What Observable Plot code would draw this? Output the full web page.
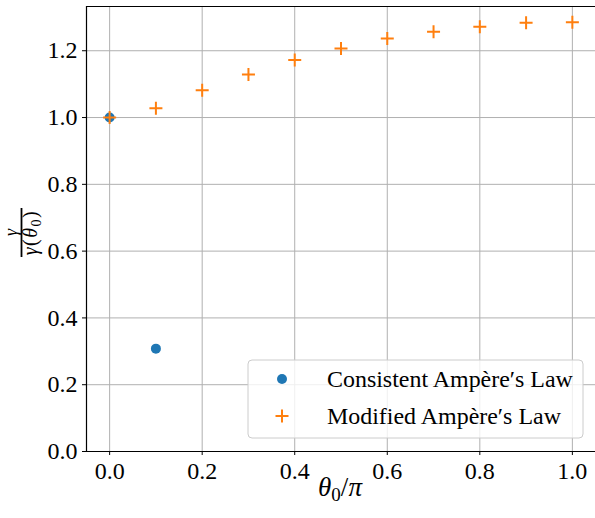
<!DOCTYPE html>
<html>
<head>
<meta charset="utf-8">
<script src="https://cdn.jsdelivr.net/npm/d3@7"></script>
<script src="https://cdn.jsdelivr.net/npm/@observablehq/plot@0.6"></script>
<style>
  html, body { margin: 0; padding: 0; background: #fff; }
  #chart svg { display: block; }
</style>
</head>
<body>
<div id="chart"></div>
<script>
const thetaConsistent = [0.0, 0.1];
const gammaConsistent = [1.0, 0.308];

const thetaModified = [0.0, 0.1, 0.2, 0.3, 0.4, 0.5, 0.6, 0.7, 0.8, 0.9, 1.0];
const gammaModified = [1.0, 1.028, 1.082, 1.129, 1.172, 1.207, 1.237, 1.257, 1.272, 1.284, 1.285];

const xTicks = [0.0, 0.2, 0.4, 0.6, 0.8, 1.0];
const yTicks = [0.0, 0.2, 0.4, 0.6, 0.8, 1.0, 1.2];

const seriesNames = ["Consistent Ampère\u2032s Law", "Modified Ampère\u2032s Law"];
const seriesColors = ["#1f77b4", "#ff7f0e"];

const consistent = thetaConsistent.map((x, i) => ({x, y: gammaConsistent[i]}));
const modified = thetaModified.map((x, i) => ({x, y: gammaModified[i]}));

const FONT = "Liberation Serif";

const plusSymbol = {
  draw(context, size) {
    const h = Math.sqrt(size / Math.PI);
    context.moveTo(-h, 0); context.lineTo(h, 0);
    context.moveTo(0, -h); context.lineTo(0, h);
  }
};

function yLabelMark(index, scales, values, dim) {
  const g = d3.create("svg:g").attr("fill", "black");
  const cy = 232.5;
  g.append("line").attr("x1", 21.5).attr("x2", 21.5).attr("y1", cy - 24.5).attr("y2", cy + 24.5)
    .attr("stroke", "black").attr("stroke-width", 1.8);
  g.append("text").attr("transform", `translate(17,${cy}) rotate(-90)`)
    .attr("text-anchor", "middle").attr("font-style", "italic")
    .attr("font-size", 18).text("γ");
  g.append("text").attr("transform", `translate(37,${cy}) rotate(-90)`)
    .attr("text-anchor", "middle")
    .attr("font-size", 20).attr("letter-spacing", 1.5)
    .call(t => {
      t.append("tspan").attr("font-style", "italic").text("γ");
      t.append("tspan").text("(");
      t.append("tspan").attr("font-style", "italic").text("θ");
      t.append("tspan").attr("font-size", 14).attr("dy", 4).text("0");
      t.append("tspan").attr("dy", -4).text(")");
    });
  return g.node();
}

function xLabelMark(index, scales, values, dim) {
  const g = d3.create("svg:g").attr("fill", "black");
  g.append("text").attr("x", 340).attr("y", 496).attr("text-anchor", "middle")
    .attr("font-size", 27)
    .call(t => {
      t.append("tspan").attr("font-style", "italic").text("θ");
      t.append("tspan").attr("font-size", 19).attr("dy", 5).text("0");
      t.append("tspan").attr("dy", -5).text("/");
      t.append("tspan").attr("font-style", "italic").text("π");
    });
  return g.node();
}

function legendMark(index, scales, values, dim) {
  const g = d3.create("svg:g").attr("class", "legend");
  const x0 = 248, y0 = 360, w = 335, h = 78;
  g.append("rect").attr("x", x0).attr("y", y0).attr("width", w).attr("height", h)
    .attr("rx", 4).attr("fill", "white").attr("fill-opacity", 0.8)
    .attr("stroke", "#cccccc").attr("stroke-width", 1);
  const rows = [y0 + 19, y0 + 56];
  g.append("circle").attr("cx", 282).attr("cy", rows[0]).attr("r", 5).attr("fill", seriesColors[0]);
  g.append("path").attr("d", `M${275.5},${rows[1]}H${288.5}M282,${rows[1] - 6.5}V${rows[1] + 6.5}`)
    .attr("stroke", seriesColors[1]).attr("stroke-width", 2).attr("fill", "none");
  seriesNames.forEach((s, i) => {
    g.append("text").attr("class", "legend-label").attr("x", 327).attr("y", rows[i]).attr("dy", "0.35em")
      .attr("text-anchor", "start")
      .attr("font-size", 24).attr("fill", "black").text(s);
  });
  return g.node();
}

const chart = Plot.plot({
  width: 595,
  height: 518,
  marginLeft: 86,
  marginRight: 0,
  marginTop: 6,
  marginBottom: 67,
  style: {fontSize: "24px", color: "black", background: "white"},
  x: {domain: [-0.05, 1.05], ticks: xTicks, tickFormat: d3.format(".1f"), label: null},
  y: {domain: [0, 1.3325], ticks: yTicks, tickFormat: d3.format(".1f"), label: null},
  marks: [
    Plot.gridX(xTicks, {stroke: "#b0b0b0", strokeOpacity: 1, strokeWidth: 1}),
    Plot.gridY(yTicks, {stroke: "#b0b0b0", strokeOpacity: 1, strokeWidth: 1}),
    Plot.axisX(xTicks, {tickSize: 4, tickPadding: 6, tickFormat: d3.format(".1f"), fontSize: 24, stroke: "black", fill: "black", label: null}),
    Plot.axisY(yTicks, {tickSize: 4, tickPadding: 5, tickFormat: d3.format(".1f"), fontSize: 24, stroke: "black", fill: "black", label: null}),
    Plot.ruleX([-0.05], {stroke: "black", strokeWidth: 1.2}),
    Plot.ruleY([0], {stroke: "black", strokeWidth: 1.2}),
    Plot.ruleY([1.3325], {stroke: "black", strokeWidth: 1.2}),
    Plot.dot(consistent, {x: "x", y: "y", r: 5, fill: seriesColors[0], stroke: null}),
    Plot.dot(modified, {x: "x", y: "y", r: 6.5, symbol: plusSymbol, stroke: seriesColors[1], strokeWidth: 2, fill: "none"}),
    xLabelMark,
    yLabelMark,
    legendMark
  ]
});
document.getElementById("chart").append(chart);

chart.setAttribute("font-family", FONT);
chart.style.fontFamily = `"${FONT}", serif`;
chart.querySelectorAll("g, text, tspan").forEach(el => {
  if (el.hasAttribute("font-family")) el.setAttribute("font-family", FONT);
});
chart.querySelectorAll("text").forEach(el => { el.style.fontFamily = `"${FONT}", serif`; });

const labels = chart.querySelectorAll(".legend-label");
if (labels.length) {
  const w0 = labels[0].getComputedTextLength();
  if (w0 > 0) {
    const fs = 24 * 246 / w0;
    labels.forEach(l => l.setAttribute("font-size", fs.toFixed(2)));
  }
}
</script>
</body>
</html>
